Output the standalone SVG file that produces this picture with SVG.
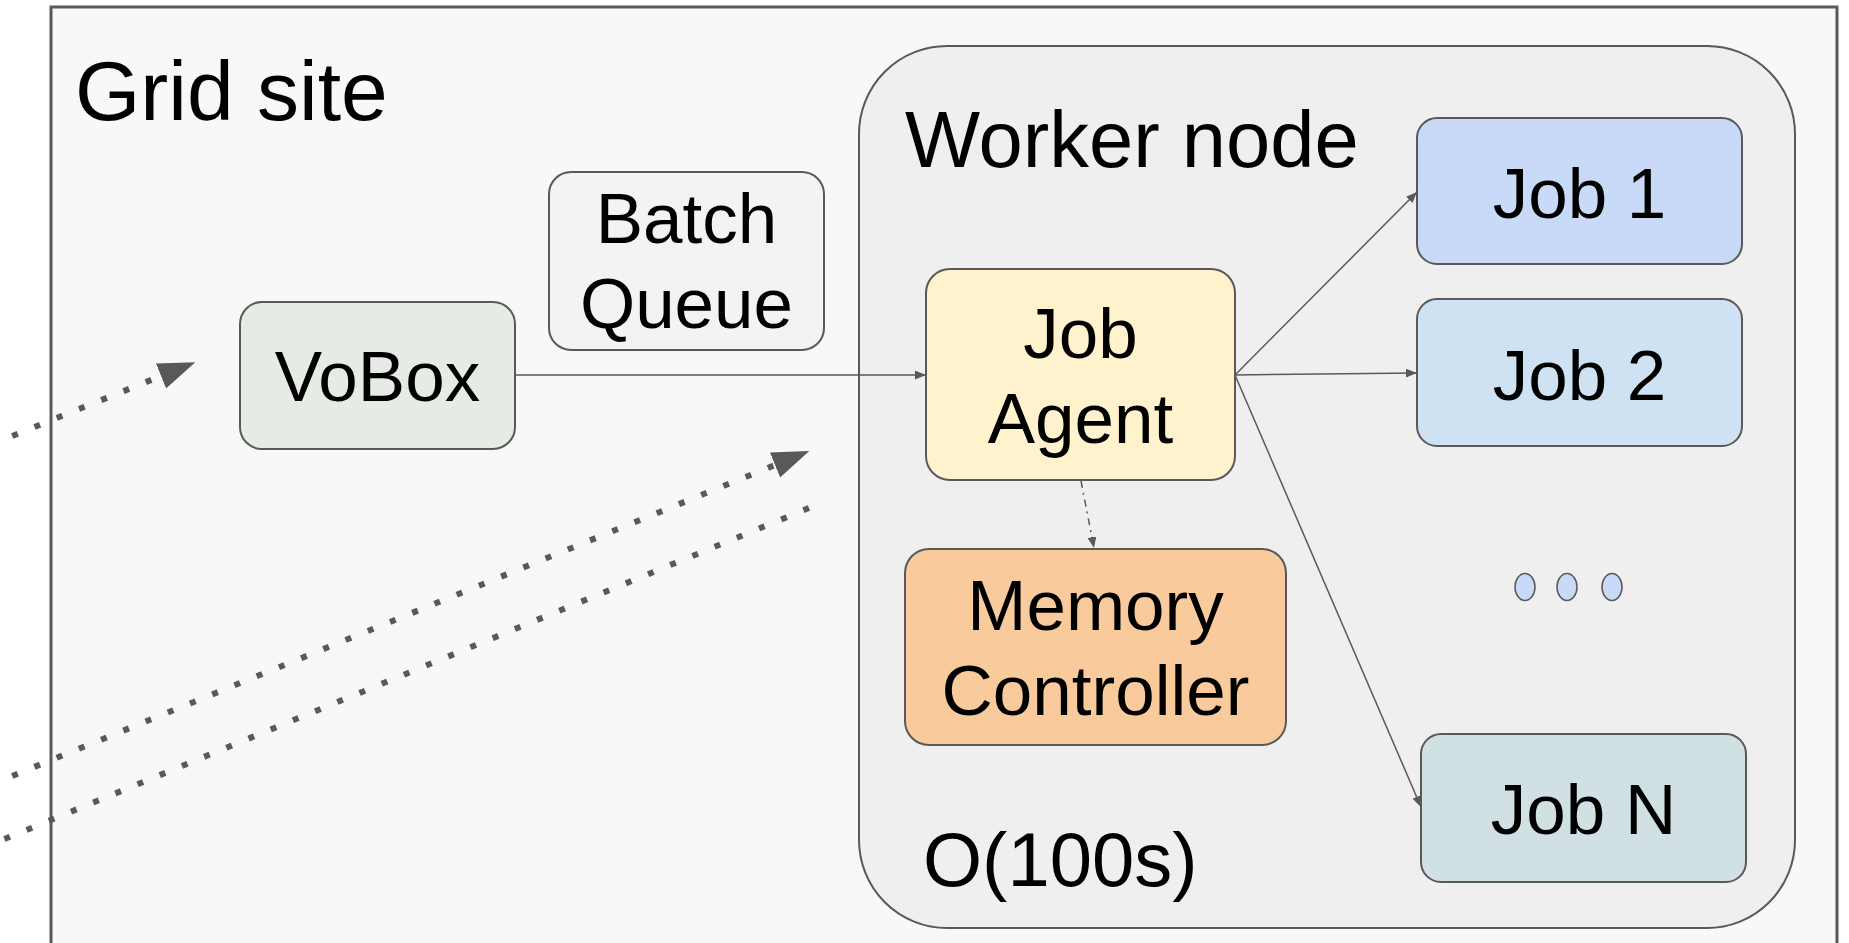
<svg xmlns="http://www.w3.org/2000/svg" width="1849" height="943" viewBox="0 0 1849 943">
<style>
  text { font-family: "Liberation Sans", Arial, sans-serif; fill: #000; }
  .box { stroke: #595959; stroke-width: 2; }
  .lbl { font-size: 71px; text-anchor: middle; }
  .conn { stroke: #595959; stroke-width: 1.5; fill: none; }
  .dotted { stroke: #595959; stroke-width: 6; stroke-dasharray: 6 18; fill: none; }
</style>
<defs>
  <marker id="bigArrow" markerUnits="userSpaceOnUse" markerWidth="40" markerHeight="30" refX="0" refY="13.5" orient="auto">
    <path d="M0,0 L37,13.5 L0,27 z" fill="#595959"/>
  </marker>
  <marker id="smallArrow" markerUnits="userSpaceOnUse" markerWidth="12" markerHeight="10" refX="11" refY="4.5" orient="auto">
    <path d="M0,0 L11,4.5 L0,9 z" fill="#595959"/>
  </marker>
</defs>
<rect x="0" y="0" width="1849" height="943" fill="#ffffff"/>

<g id="grid-site">
  <rect x="51" y="7" width="1786" height="1000" fill="#f8f8f8" stroke="#595959" stroke-width="3"/>
  <text x="75" y="120" font-size="84">Grid site</text>
</g>

<g id="worker-node">
  <rect x="859" y="46" width="936" height="882" rx="88" ry="88" fill="#efefef" stroke="#595959" stroke-width="2"/>
  <text x="905" y="167" font-size="79.5">Worker node</text>
  <text x="923" y="886" font-size="76">O(100s)</text>
</g>

<g id="vobox">
  <rect class="box" x="240" y="302" width="275" height="147" rx="22" fill="#e6ece5"/>
  <text class="lbl" x="377.5" y="401" font-size="77">VoBox</text>
</g>

<g id="batch-queue">
  <rect class="box" x="549" y="172" width="275" height="178" rx="22" fill="#f3f3f3"/>
  <text class="lbl" x="686.5" y="243">Batch</text>
  <text class="lbl" x="686.5" y="328">Queue</text>
</g>

<g id="job-agent">
  <rect class="box" x="926" y="269" width="309" height="211" rx="24" fill="#fff2cc"/>
  <text class="lbl" x="1080.5" y="358">Job</text>
  <text class="lbl" x="1080.5" y="443">Agent</text>
</g>

<g id="memory-controller">
  <rect class="box" x="905" y="549" width="381" height="196" rx="24" fill="#f9cb9c"/>
  <text class="lbl" x="1095.5" y="630">Memory</text>
  <text class="lbl" x="1095.5" y="715">Controller</text>
</g>

<g id="job-1">
  <rect class="box" x="1417" y="118" width="325" height="146" rx="20" fill="#c9daf8"/>
  <text class="lbl" x="1579.5" y="218" font-size="72">Job 1</text>
</g>

<g id="job-2">
  <rect class="box" x="1417" y="299" width="325" height="147" rx="20" fill="#cfe2f3"/>
  <text class="lbl" x="1579.5" y="400" font-size="72">Job 2</text>
</g>

<g id="job-n">
  <rect class="box" x="1421" y="734" width="325" height="148" rx="20" fill="#d0e0e3"/>
  <text class="lbl" x="1583.5" y="834" font-size="72">Job N</text>
</g>

<g id="ellipsis">
  <ellipse cx="1525" cy="587" rx="10" ry="13.5" fill="#c9daf8" stroke="#595959" stroke-width="1.5"/>
  <ellipse cx="1567" cy="587" rx="10" ry="13.5" fill="#c9daf8" stroke="#595959" stroke-width="1.5"/>
  <ellipse cx="1612" cy="587" rx="10" ry="13.5" fill="#c9daf8" stroke="#595959" stroke-width="1.5"/>
</g>

<g id="connectors">
  <line class="conn" x1="515" y1="375" x2="926" y2="375" marker-end="url(#smallArrow)"/>
  <line class="conn" x1="1235" y1="375" x2="1417" y2="192" marker-end="url(#smallArrow)"/>
  <line class="conn" x1="1235" y1="375" x2="1417" y2="373" marker-end="url(#smallArrow)"/>
  <line class="conn" x1="1235" y1="375" x2="1421" y2="807" marker-end="url(#smallArrow)"/>
  <line class="conn" x1="1081" y1="481" x2="1094" y2="548" stroke-dasharray="7 5 2 5" marker-end="url(#smallArrow)"/>
  <line class="dotted" x1="-10" y1="445" x2="161" y2="376" marker-end="url(#bigArrow)"/>
  <line class="dotted" x1="-10" y1="785" x2="775" y2="465" marker-end="url(#bigArrow)"/>
  <line class="dotted" x1="-17.8" y1="848.2" x2="809" y2="508"/>
</g>
</svg>
